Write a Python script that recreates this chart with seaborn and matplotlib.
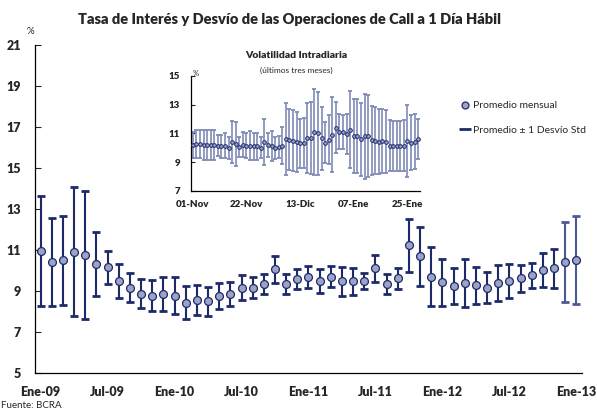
import matplotlib
matplotlib.use("Agg")
import matplotlib.pyplot as plt
from matplotlib.lines import Line2D
import numpy as np
import seaborn as sns

# ── data: monthly call rate (mean ± 1 std), Jan-09 .. Jan-13 ──
monthly_mean = [10.94, 10.41, 10.50, 10.92, 10.76, 10.32, 10.15, 9.50, 9.17, 8.86,
                8.78, 8.84, 8.78, 8.42, 8.55, 8.50, 8.75, 8.84, 9.17, 9.17,
                9.33, 10.06, 9.35, 9.60, 9.68, 9.50, 9.70, 9.47, 9.47, 9.50,
                10.12, 9.35, 9.61, 11.23, 10.69, 9.70, 9.42, 9.24, 9.38, 9.27,
                9.17, 9.40, 9.48, 9.63, 9.76, 10.04, 10.10, 10.41, 10.51]
monthly_std = [2.68, 2.16, 2.18, 3.14, 3.11, 1.57, 0.80, 0.82, 0.70, 0.71,
               0.75, 0.82, 0.90, 0.80, 0.73, 0.71, 0.65, 0.59, 0.59, 0.50,
               0.49, 0.66, 0.50, 0.48, 0.54, 0.59, 0.52, 0.72, 0.65, 0.40,
               0.66, 0.50, 0.49, 1.28, 1.43, 1.44, 1.15, 0.88, 1.18, 0.88,
               0.76, 0.89, 0.84, 0.66, 0.61, 0.83, 0.94, 1.97, 2.15]
month_labels = ["Ene-09", "Jul-09", "Ene-10", "Jul-10", "Ene-11",
                "Jul-11", "Ene-12", "Jul-12", "Ene-13"]

# ── inset: daily intraday volatility, last three months ──
daily_mean = [10.20, 10.25, 10.25, 10.20, 10.20, 10.20, 10.20, 10.15, 10.10, 10.15,
              10.00, 10.40, 10.25, 10.05, 10.20, 10.15, 10.15, 10.10, 10.10, 10.00,
              10.40, 10.20, 10.10, 10.00, 10.05, 10.15, 10.60, 10.55, 10.50, 10.40,
              10.30, 10.35, 10.65, 10.65, 11.10, 11.00, 10.65, 10.35, 10.55, 10.90,
              11.40, 11.12, 11.10, 10.93, 11.26, 10.83, 10.79, 10.60, 10.79, 10.80,
              10.51, 10.50, 10.42, 10.44, 10.40, 10.15, 10.10, 10.10, 10.10, 10.15,
              10.45, 10.35, 10.40, 10.60]
daily_std = [0.90, 0.95, 0.98, 1.03, 1.03, 1.05, 1.03, 0.75, 0.80, 0.85,
             0.78, 1.48, 1.55, 0.73, 0.88, 0.90, 0.98, 0.95, 0.95, 0.75,
             1.58, 0.83, 1.03, 0.78, 0.76, 1.26, 2.49, 2.12, 2.10, 2.07,
             1.70, 1.75, 2.45, 2.52, 3.00, 2.88, 2.20, 1.45, 1.70, 2.62,
             1.80, 1.24, 1.20, 1.40, 2.71, 2.59, 2.59, 2.54, 2.94, 2.84,
             2.43, 2.37, 2.27, 2.24, 2.20, 1.75, 1.75, 1.75, 1.75, 1.75,
             2.50, 1.93, 1.92, 1.37]
day_labels = ["01-Nov", "22-Nov", "13-Dic", "07-Ene", "25-Ene"]

NAVY = "#1c2a6a"
FACE = "#9da3c5"
LIGHT = "#7f8bb8"

sns.set_style("white")
plt.rcParams["font.family"] = ["Lato", "DejaVu Sans"]

fig = plt.figure(figsize=(5.97, 4.12), dpi=100)

# ────────────────────────────────────────────────────────────────
# Main chart
# ────────────────────────────────────────────────────────────────
ax = fig.add_axes([35 / 597, 1 - 373 / 412, 547 / 597, 328 / 412])
x = np.arange(len(monthly_mean))
bar_colors = [NAVY] * (len(x) - 2) + ["#4c5a93"] * 2
for xi, m, s, c in zip(x, monthly_mean, monthly_std, bar_colors):
    ax.errorbar(xi, m, yerr=s, fmt="none", ecolor=c, elinewidth=1.5,
                capsize=3, capthick=2, zorder=2)
sns.scatterplot(x=x, y=monthly_mean, ax=ax, color=FACE, edgecolor=NAVY,
                linewidth=0.9, s=32, zorder=3, legend=False)

ax.set_xlim(-0.5, len(x) - 0.5)
ax.set_ylim(5, 21)
ax.set_yticks(np.arange(5, 22, 2))
ax.set_xticks(np.arange(0, len(x), 6))
ax.set_xticklabels(month_labels)
ax.set_xticks(np.arange(5.5, len(x), 6), minor=True)
ax.tick_params(axis="x", which="major", length=0, pad=9)
ax.tick_params(axis="x", which="minor", direction="in", length=5, width=0.8)
ax.tick_params(axis="y", direction="in", length=4, width=0.8, pad=10, left=True)
for lab in ax.get_xticklabels() + ax.get_yticklabels():
    lab.set_fontsize(9)
    lab.set_fontweight("heavy")
for sp in ["top", "right"]:
    ax.spines[sp].set_visible(False)
for sp in ["left", "bottom"]:
    ax.spines[sp].set_color("black")
    ax.spines[sp].set_linewidth(0.9)
ax.set_xlabel("")
ax.set_ylabel("")

fig.text(30 / 597, 1 - 31 / 412, "%", fontsize=7, ha="center", va="center")
fig.text(290 / 597, 1 - 19 / 412,
         "Tasa de Interés y Desvío de las Operaciones de Call a 1 Día Hábil",
         fontsize=10.5, fontweight="heavy", ha="center", va="center")
fig.text(1 / 597, 1 - 405 / 412, "Fuente: BCRA", fontsize=7, ha="left", va="center")

handles = [
    Line2D([], [], marker="o", ls="none", mfc=FACE, mec=NAVY, mew=0.9, ms=5),
    Line2D([], [], marker="_", ls="none", color=NAVY, mew=2, ms=8),
]
fig.legend(handles, ["Promedio mensual", "Promedio ± 1 Desvío Std"],
           loc="center left", bbox_to_anchor=(451 / 597, 1 - 118 / 412),
           frameon=False, fontsize=7.5, labelspacing=1.5,
           handlelength=0.9, handletextpad=0.3)

# ────────────────────────────────────────────────────────────────
# Inset: intraday volatility
# ────────────────────────────────────────────────────────────────
ins = fig.add_axes([191 / 597, 1 - 190.7 / 412, 229 / 597, 114.7 / 412])
d = np.arange(len(daily_mean))
eb = ins.errorbar(d, daily_mean, yerr=daily_std, fmt="none", ecolor=LIGHT,
                  elinewidth=1.2, capsize=1.6, capthick=1.3, zorder=2)
for cl in eb[1]:
    cl.set_color(NAVY)
sns.scatterplot(x=d, y=daily_mean, ax=ins, color=FACE, edgecolor=NAVY,
                linewidth=0.7, s=7, zorder=3, legend=False)

ins.set_xlim(-0.5, len(d) - 0.5)
ins.set_ylim(7, 15)
ins.set_yticks(np.arange(7, 16, 2))
ins.set_xticks(np.arange(0, len(d), 15))
ins.set_xticklabels(day_labels)
ins.set_xticks(np.arange(14.5, len(d), 15), minor=True)
ins.tick_params(axis="x", which="major", length=0, pad=7)
ins.tick_params(axis="x", which="minor", direction="in", length=3, width=0.8)
ins.tick_params(axis="y", direction="in", length=3, width=0.8, pad=8, left=True)
for lab in ins.get_xticklabels() + ins.get_yticklabels():
    lab.set_fontsize(7)
    lab.set_fontweight("heavy")
for sp in ["top", "right"]:
    ins.spines[sp].set_visible(False)
for sp in ["left", "bottom"]:
    ins.spines[sp].set_color("black")
    ins.spines[sp].set_linewidth(0.9)
ins.set_xlabel("")
ins.set_ylabel("")

fig.text(196 / 597, 1 - 74 / 412, "%", fontsize=5.5, ha="center", va="center")
fig.text(296 / 597, 1 - 55 / 412, "Volatilidad Intradiaria", fontsize=7.5,
         fontweight="heavy", ha="center", va="center")
fig.text(296 / 597, 1 - 70.5 / 412, "(últimos tres meses)", fontsize=6,
         ha="center", va="center")

fig.savefig("out.png", dpi=100)
plt.close(fig)
